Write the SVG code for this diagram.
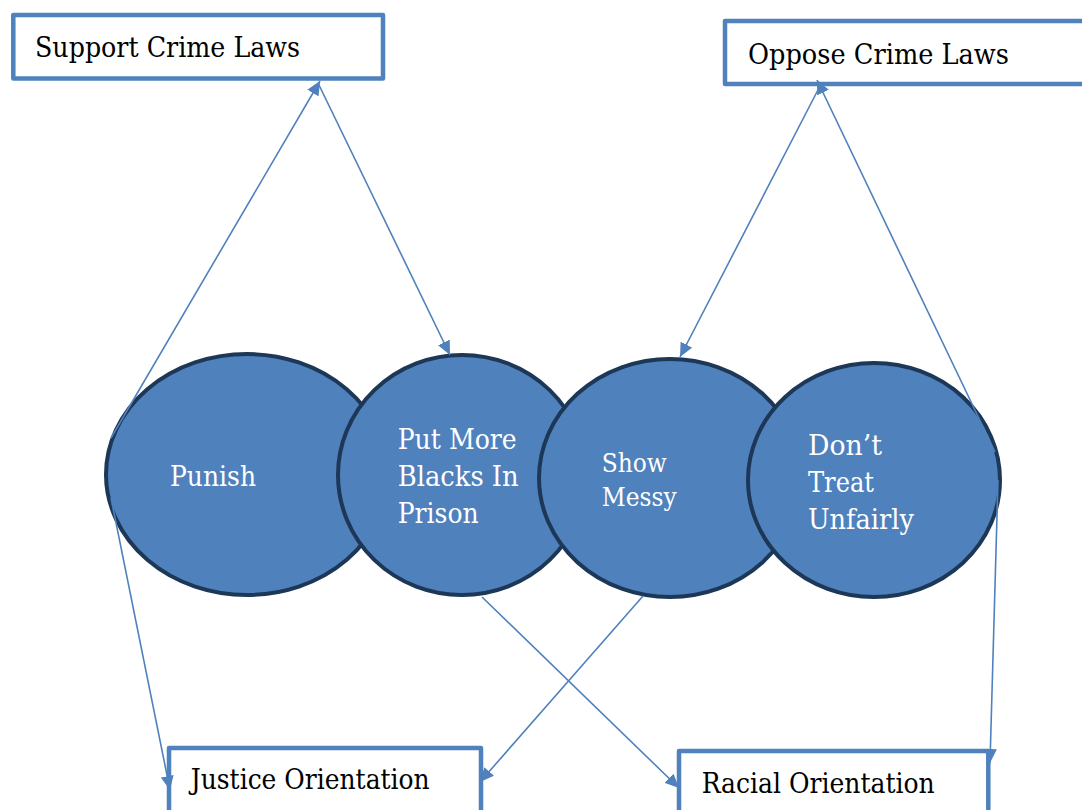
<svg xmlns="http://www.w3.org/2000/svg" width="1082" height="810" viewBox="0 0 1082 810">
<style>
.box{fill:#fff;stroke:#4F81BD;stroke-width:4.5;stroke-linejoin:round}
.ell{fill:#4F81BD;stroke:#1D3757;stroke-width:4}
text{font-family:'DejaVu Serif',serif;font-size:28px}
.bt{fill:#000}
.et{fill:#fff}
.sm{font-size:25.3px}
.con{fill:none;stroke:#4F81BD;stroke-width:1.6;marker-end:url(#ah)}
</style>
<defs>
<marker id="ah" markerUnits="userSpaceOnUse" markerWidth="15" markerHeight="13" refX="14" refY="6.5" orient="auto">
<path d="M0,0 L14,6.5 L0,13 z" fill="#4F81BD"/>
</marker>
</defs>
<rect width="1082" height="810" fill="#fff"/>
<g id="support">
<rect class="box" x="13.3" y="15" width="369.7" height="63.5"/>
<text class="bt" x="35" y="57" textLength="265" lengthAdjust="spacingAndGlyphs">Support Crime Laws</text>
</g>
<g id="oppose">
<rect class="box" x="725" y="21" width="400" height="63"/>
<text class="bt" x="748" y="63.5" textLength="261" lengthAdjust="spacingAndGlyphs">Oppose Crime Laws</text>
</g>
<g id="justice">
<rect class="box" x="169" y="748" width="312" height="100"/>
<text class="bt" x="190.7" y="789" textLength="239" lengthAdjust="spacingAndGlyphs">Justice Orientation</text>
</g>
<g id="racial">
<rect class="box" x="679" y="751" width="309.3" height="100"/>
<text class="bt" x="701.7" y="793" textLength="233" lengthAdjust="spacingAndGlyphs">Racial Orientation</text>
</g>
<g id="punish">
<ellipse class="ell" cx="247" cy="474.5" rx="141" ry="120.5"/>
<text class="et" x="170" y="486" textLength="86" lengthAdjust="spacingAndGlyphs">Punish</text>
</g>
<g id="putmore">
<ellipse class="ell" cx="462" cy="475" rx="124" ry="120"/>
<text class="et" x="397.7" y="449" textLength="119" lengthAdjust="spacingAndGlyphs">Put More</text>
<text class="et" x="397.7" y="486" textLength="121" lengthAdjust="spacingAndGlyphs">Blacks In</text>
<text class="et" x="397.7" y="523" textLength="81" lengthAdjust="spacingAndGlyphs">Prison</text>
</g>
<g id="showmessy">
<ellipse class="ell" cx="670" cy="478" rx="131" ry="119"/>
<text class="et sm" x="601.7" y="472" textLength="65" lengthAdjust="spacingAndGlyphs">Show</text>
<text class="et sm" x="601.7" y="506" textLength="75" lengthAdjust="spacingAndGlyphs">Messy</text>
</g>
<g id="donttreat">
<ellipse class="ell" cx="874" cy="480" rx="126" ry="117"/>
<text class="et" x="808" y="454.5" textLength="74" lengthAdjust="spacingAndGlyphs">Don’t</text>
<text class="et" x="808" y="491.5" textLength="66" lengthAdjust="spacingAndGlyphs">Treat</text>
<text class="et" x="808" y="528.5" textLength="106" lengthAdjust="spacingAndGlyphs">Unfairly</text>
</g>
<g id="connectors">
<line class="con" x1="111" y1="438" x2="320" y2="81"/>
<line class="con" x1="318" y1="83" x2="450" y2="355"/>
<line class="con" x1="820" y1="86" x2="680" y2="357"/>
<line class="con" x1="995" y1="452" x2="817" y2="80"/>
<line class="con" x1="998" y1="480" x2="990" y2="763"/>
<line class="con" x1="111" y1="498" x2="170" y2="790"/>
<line class="con" x1="643" y1="596" x2="480" y2="782"/>
<line class="con" x1="482" y1="597" x2="679" y2="788"/>
</g>
</svg>
